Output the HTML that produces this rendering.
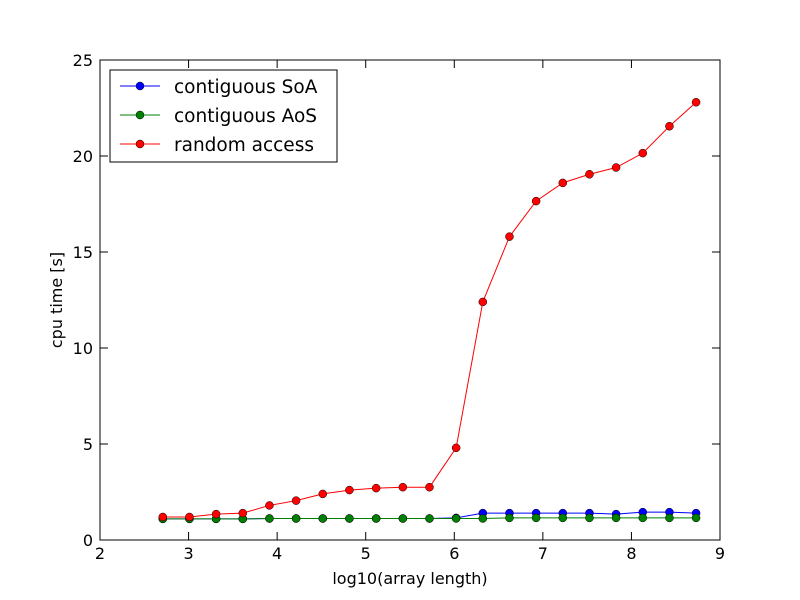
<!DOCTYPE html>
<html><head><meta charset="utf-8"><style>
body{margin:0;background:#fff;}
svg{display:block;font-family:"DejaVu Sans","Liberation Sans",sans-serif;}
</style></head><body>
<svg id="chart" width="800" height="600" xmlns="http://www.w3.org/2000/svg">
<rect width="800" height="600" fill="#fff"/>
<g id="ticks"></g>
<g id="series"></g>
<rect x="100" y="60" width="620" height="480" fill="none" stroke="#000" stroke-width="1"/>
<text x="410" y="584" font-size="16" text-anchor="middle">log10(array length)</text>
<text x="62" y="300" font-size="16" text-anchor="middle" transform="rotate(-90 62 300)">cpu time [s]</text>
<g>
<rect x="110" y="70" width="227" height="92" fill="#fff" stroke="#000" stroke-width="1"/>
<g><line x1="120" y1="86" x2="160" y2="86" stroke="#0000ff"/><circle cx="140" cy="86" r="4" fill="#0000ff" stroke="#000" stroke-width="0.5"/><text x="174" y="93" font-size="18.5">contiguous SoA</text></g>
<g><line x1="120" y1="115" x2="160" y2="115" stroke="#008000"/><circle cx="140" cy="115" r="4" fill="#008000" stroke="#000" stroke-width="0.5"/><text x="174" y="122" font-size="18.5">contiguous AoS</text></g>
<g><line x1="120" y1="144" x2="160" y2="144" stroke="#ff0000"/><circle cx="140" cy="144" r="4" fill="#ff0000" stroke="#000" stroke-width="0.5"/><text x="174" y="151" font-size="18.5">random access</text></g>
</g>
</svg>
<script>
const xValues=[2.709,3.010,3.311,3.612,3.913,4.214,4.515,4.816,5.118,5.419,5.720,6.021,6.322,6.623,6.924,7.225,7.526,7.827,8.128,8.429,8.730];
const soaValues=[1.1,1.1,1.1,1.1,1.12,1.12,1.12,1.12,1.12,1.12,1.12,1.15,1.4,1.4,1.4,1.4,1.4,1.35,1.45,1.45,1.4];
const aosValues=[1.1,1.1,1.1,1.1,1.12,1.12,1.12,1.12,1.12,1.12,1.12,1.12,1.12,1.15,1.15,1.15,1.15,1.15,1.15,1.15,1.15];
const randomValues=[1.2,1.2,1.35,1.4,1.8,2.05,2.4,2.6,2.7,2.75,2.75,4.8,12.4,15.8,17.65,18.6,19.05,19.4,20.15,21.55,22.8];
const xTicks=[2,3,4,5,6,7,8,9];
const yTicks=[0,5,10,15,20,25];
const NS="http://www.w3.org/2000/svg";
const X=v=>100+(v-2)/7*620;
const Y=v=>540-v/25*480;
function mk(tag,attrs,parent){const e=document.createElementNS(NS,tag);for(const k in attrs)e.setAttribute(k,attrs[k]);parent.appendChild(e);return e;}
const tg=document.getElementById('ticks');
xTicks.forEach(t=>{const x=X(t);
 const a=mk('line',{x1:x,y1:540,x2:x,y2:532,stroke:'#000'},tg);
 const b=mk('line',{x1:x,y1:60,x2:x,y2:68,stroke:'#000'},tg);
 const l=mk('text',{x:x,y:559,'font-size':16,'text-anchor':'middle'},tg);l.textContent=t;});
yTicks.forEach(t=>{const y=Y(t);
 const a=mk('line',{x1:100,y1:y,x2:108,y2:y,stroke:'#000'},tg);
 const b=mk('line',{x1:720,y1:y,x2:712,y2:y,stroke:'#000'},tg);
 const l=mk('text',{x:93,y:y+6,'font-size':16,'text-anchor':'end'},tg);l.textContent=t;});
const sg=document.getElementById('series');
[[soaValues,'#0000ff','soa'],[aosValues,'#008000','aos'],[randomValues,'#ff0000','random']].forEach(([vals,c,n])=>{
 const g=mk('g',{},sg);
 const p=mk('polyline',{points:vals.map((v,i)=>X(xValues[i])+','+Y(v)).join(' '),fill:'none',stroke:c,'stroke-width':1},g);
 
 vals.forEach((v,i)=>{const m=mk('circle',{cx:X(xValues[i]),cy:Y(v),r:4,fill:c,stroke:'#000','stroke-width':0.5},g);
  });
});
</script>
</body></html>
